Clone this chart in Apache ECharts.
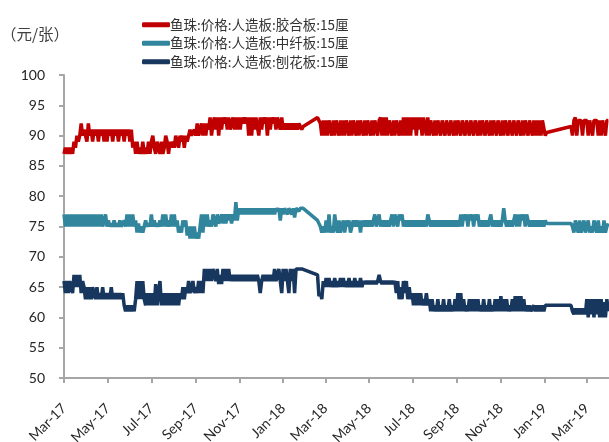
<!DOCTYPE html>
<html>
<head>
<meta charset="utf-8">
<script src="https://cdn.jsdelivr.net/npm/echarts@6/dist/echarts.min.js"></script>
<style>
  html, body { margin: 0; padding: 0; background: #fff; }
  #chart { width: 609px; height: 442px; }
</style>
</head>
<body>
<div id="chart"></div>
<script>
// Sampled prices, one value every 2 days starting 2017-03-01 (null = no quote).
// Each row below covers 30 days.
const sampleStart = [2017, 2, 1];
const sampleStepDays = 2;

const seriesNames = [
  '鱼珠:价格:人造板:胶合板:15厘',
  '鱼珠:价格:人造板:中纤板:15厘',
  '鱼珠:价格:人造板:刨花板:15厘'
];
const seriesColors = ['#C00000', '#31859C', '#17375E'];

const plywood = [
  87, 88, 87, 88, 87, 88, 87, 89, 88, 90, 89, 90, 92, 90, 91,
  91, 89, 92, 90, 91, 89, 91, 90, 91, 89, 91, 90, 91, 89, 91,
  89, 91, 90, 91, 89, 91, 90, 91, 89, 91, 90, 91, 89, 91, 90,
  91, 89, 91, 88, 89, 87, 89, 87, 88, 87, 89, 87, 88, 87, 89,
  87, 89, 90, 88, 87, 89, 88, 87, 89, 87, 88, 90, 89, 87, 89,
  88, 89, 88, 90, 89, 88, 90, 89, 90, 88, 90, 89, 90, 91, 90,
  90, 91, 90, 92, 90, 91, 92, 90, 92, 90, 92, 91, 93, 90, 92,
  93, 91, 93, 90, 93, 91, 93, 92, 93, 91, 93, 91, 92, 93, 91,
  93, 91, 93, 91, 93, 92, 93, 92, 93, 90, 93, 90, 93, 91, 93,
  93, 90, 93, 91, 93, 92, 93, 90, 93, 91, 93, 92, 93, 91, 93,
  93, 91, 93, 91, 92, 91, 92, 91, 92, 91, 92, 91, 92, 91, 92,
  92, 91, 91.5, null, null, null, null, null, null, null, null, null, 93, 92.5, 92,
  90, 92.5, 90, 92.5, 90, 92.5, 92.5, 90, 92.5, 90, 92.5, 92.5, 90, 92.5, 90,
  92.5, 90, 92.5, 92.5, 90, 92.5, 90, 92.5, 92.5, 90, 92.5, 90, 92.5, 92.5, 90,
  92.5, 90, 92.5, 92.5, 90, 92.5, 90, 92.5, 92.5, 90, 92.5, 93, 90, 93, 90,
  93, 90, 92.5, 92.5, 90, 92.5, 90, 92.5, 92.5, 90, 92.5, 90, 93, 90, 93,
  90, 93, 90, 93, 91, 93, 90, 93, 91, 93, 90, 93, 93, 90, 93,
  90, 92.5, 92.5, 90, 92.5, 90, 92.5, 92.5, 90, 92.5, 92.5, 90, 92.5, 92.5, 90,
  92.5, 92.5, 90, 92.5, 90, 92.5, 92.5, 90, 92.5, 92.5, 90, 92.5, 92.5, 90, 92.5,
  92.5, 90, 92.5, 92.5, 90, 92.5, 90, 92.5, 92.5, 90, 92.5, 92.5, 90, 92.5, 90,
  92.5, 92.5, 90, 92.5, 92.5, 90, 92.5, 90, 92.5, 92.5, 90, 92.5, 92.5, 90, 92.5,
  92.5, 90, 92.5, 92.5, 90, 92.5, 90, 92.5, 92.5, 90, 92.5, 92.5, 90, 92.5, 90,
  92.5, 90, 92.5, 90, 92.5, 92.5, 90, 90.5, null, null, null, null, null, null, null,
  null, null, null, null, null, null, null, null, null, 91.5, 90, 92.5, 93, 90, 92.5,
  92.5, 92.5, 90, 92.5, 92.5, 92.5, 90, 92.5, 92.5, 90, 92.5, 92.5, 92.5, 90, 92.5,
  90, 92.5, 92.5, 90, 92.5, 92.5
];

const mdf = [
  77, 75, 77, 75, 77, 75, 77, 75, 77, 75, 77, 75, 77, 75, 77,
  75, 77, 75, 77, 75, 77, 75, 77, 75, 77, 75, 77, 75, 76, 77,
  75, 76, 75, 75.5, 75, 76, 75, 75.5, 75, 76, 75, 75.5, 76, 75, 77,
  75, 77, 75, 77, 75, 76, 74, 75.5, 74, 75, 74, 75, 76, 75, 75.5,
  75, 77, 75, 76, 75, 75.5, 75, 76, 75, 77, 75, 77, 75, 76, 75,
  77, 75, 77, 75, 76, 74, 75, 74, 76, 75, 76, 73.5, 75, 73, 75,
  73, 75, 73, 74, 73, 75, 77, 74, 77, 75, 77, 75, 76, 75, 77,
  77, 75, 77, 75.5, 76, 77, 75.5, 77, 75.5, 77, 76, 77, 75.5, 77, 76,
  79, 76, 78, 77, 78, 77, 78, 77, 78, 77, 78, 77, 78, 77, 78,
  77, 78, 77, 78, 77, 78, 77, 78, 77, 78, 77, 78, 77, 78, 77.5,
  78, 76, 78, 77, 78, 78, 77, 78, 78, 77, 78, 76.5, 78, 78, 77.5,
  78, 78, 78, null, null, null, null, null, null, null, null, null, 76, 75.5, 75,
  74, 75, 74, 76, 74, 77, 74, 75, 74, 77, 75, 74, 76, 74, 75,
  76, 74, 76, 75, 76, 74, 75, 76, 75, 76, 75, 76, 74, 76, 75,
  76, 75, 76, 75, 76, 75, 76, 77, 75, 76, 77, 75, 76, 75, 76,
  75, 76, 75, 76, 77, 75, 77, 76, 75, 77, 76, 77, 75, 76, 75,
  76, 75, 76, 75, 76, 75, 76, 75, 76, 75, 76, 75, 76, 75, 77,
  76, 75, 76, 75, 76, 75, 76, 75, 76, 75, 76, 75, 76, 75, 76,
  75, 76, 75, 76, 75, 76, 75, 77, 75, 77, 76, 77, 75, 77, 76,
  77, 75, 77, 76, 77, 75, 76, 75, 76, 75, 76, 75, 76, 77, 75,
  76, 75, 76, 75, 76, 75, 76, 78, 76, 75, 76, 75, 76, 75, 76,
  77, 75, 77, 75, 77, 76, 77, 75, 77, 76, 75, 76, 75, 76, 75,
  76, 75, 76, 75, 76, 75, 76, 75.5, null, null, null, null, null, null, null,
  null, null, null, null, null, null, null, null, null, 75.5, 75, 74, 76, 75, 74,
  76, 74, 75, 76, 74, 75, 76, 74, 75, 74, 76, 75, 74, 76, 74,
  75, 74, 76, 74, 75, 75.5
];

const particleboard = [
  66, 64, 66, 64, 66, 65, 64, 67, 65, 67, 65, 67, 64, 66, 65,
  63, 65, 63, 65, 63, 65, 64, 63, 65, 63, 64, 63, 65, 63, 64,
  63, 64, 63, 65, 63, 64, 63, 64, 63, 64, 63, 64, 62, 61, 62,
  61, 62, 61, 62, 61, 63, 66, 63, 66, 63, 66, 63, 62, 64, 62,
  64, 62, 64, 62, 65.5, 62, 64, 66, 62, 64, 62, 64, 62, 64, 62,
  64, 62, 64, 62, 64, 62, 64, 63, 65, 63, 65, 64, 66, 64, 65,
  66, 64, 65, 64, 66, 64, 66, 64, 68, 66, 68, 66, 68, 66, 68,
  68, 66, 68, 65.5, 67, 65.5, 68, 66, 68, 66, 68, 66, 67, 66, 67,
  66, 67, 66, 67, 66, 67, 66, 67, 66, 67, 66, 67, 66, 67, 66,
  67, 66, 64, 66, 67, 66, 67, 66, 67, 66, 67, 66, 68, 66, 67,
  68, 66, 64, 68, 66, 68, 66, 64, 68, 66, 68, 64, 68, 68, 68,
  68, 68, 68, null, null, null, null, null, null, null, null, null, 67, 63.5, 64,
  63, 66, 65, 66.5, 65, 66.5, 65, 66, 65, 66.5, 65, 66, 65, 66.5, 65,
  66.5, 65, 66, 65, 66.5, 65, 66, 65, 66.5, 65, 66, 65, 66.5, 65, 66,
  65.5, 66, 65.5, 66, 65.5, 66, 65.5, 66, 65.5, 66, 67, 66, 65.5, 66, 65.5,
  66, 65.5, 66, 65.5, 66, 65.5, 66, 64, 66, 63, 65, 63, 66, 64, 66,
  63, 65, 63, 64, 62, 64, 62, 64, 62, 64, 62, 63, 62, 64, 62,
  63, 61, 63, 61, 62, 61, 63, 61, 62, 61, 63, 61, 62, 61, 63,
  61, 62, 61, 63, 61, 64, 61, 64, 61, 63, 61, 62, 61, 63, 61,
  63, 61, 63, 61, 63, 61, 62, 61, 63, 61, 62, 61, 63, 61, 62,
  61, 63, 61, 63, 61, 63.5, 61, 63, 61, 63, 61, 62, 61, 63, 61,
  63.5, 61, 63.5, 61, 63.5, 61, 63, 61, 62, 61, 62, 61, 61, 62, 61,
  62, 61, 62, 61, 62, 61, 62, 62, null, null, null, null, null, null, null,
  null, null, null, null, null, null, null, null, null, 62, 61, 60.5, 61.5, 60.5, 61.5,
  60.5, 61.5, 60.5, 61.5, 60.5, 63, 60, 63, 60.5, 63, 60, 63, 60.5, 63, 60,
  63, 60, 62.5, 60, 63, 61
];

// Axis tick positions (first day of every other month) and their labels
const tickMonths = [
  [2017, 3], [2017, 5], [2017, 7], [2017, 9], [2017, 11],
  [2018, 1], [2018, 3], [2018, 5], [2018, 7], [2018, 9], [2018, 11],
  [2019, 1], [2019, 3]
];
const tickLabels = [
  'Mar-17', 'May-17', 'Jul-17', 'Sep-17', 'Nov-17',
  'Jan-18', 'Mar-18', 'May-18', 'Jul-18', 'Sep-18', 'Nov-18',
  'Jan-19', 'Mar-19'
];
const yTicks = { min: 50, max: 100, step: 5 };
const unitLabel = '（元/张）';

const tickTimes = tickMonths.map(([y, m]) => new Date(y, m - 1, 1).getTime());
const axisStart = new Date(2017, 2, 1).getTime();
const axisEnd = new Date(2019, 3, 1).getTime();

function toPairs(values) {
  const out = [];
  values.forEach((v, i) => {
    if (v === null) return;
    const t = new Date(sampleStart[0], sampleStart[1], sampleStart[2] + i * sampleStepDays).getTime();
    out.push([t, v]);
  });
  return out;
}

const allValues = [plywood, mdf, particleboard];
const chart = echarts.init(document.getElementById('chart'), null, { renderer: 'canvas' });

const axisColor = '#A6A6A6';
const textColor = '#262626';

chart.setOption({
  animation: false,
  backgroundColor: '#fff',
  graphic: [{
    type: 'text',
    left: 1,
    top: 26,
    style: { text: unitLabel, fontSize: 15.5, fill: '#404040', fontFamily: 'Noto Sans CJK SC' }
  }],
  legend: {
    orient: 'vertical',
    left: 137,
    top: 13,
    itemWidth: 28,
    itemHeight: 5,
    itemGap: 5,
    icon: 'roundRect',
    data: seriesNames,
    textStyle: { fontSize: 13.5, color: '#333', fontFamily: 'Noto Sans CJK SC', padding: [0, 0, 0, -5] }
  },
  grid: { left: 64, right: 0, top: 75, bottom: 64, containLabel: false, outerBoundsMode: 'none' },
  xAxis: {
    type: 'value',
    min: axisStart,
    max: axisEnd,
    axisLine: { show: true, lineStyle: { color: axisColor, width: 2 } },
    axisTick: { show: true, length: 5, lineStyle: { color: axisColor, width: 2 }, customValues: tickTimes },
    axisLabel: {
      rotate: 45,
      margin: 28,
      fontSize: 14,
      color: textColor,
      fontFamily: 'Lato',
      customValues: tickTimes,
      formatter: function (val) {
        const idx = tickTimes.indexOf(val);
        return idx >= 0 ? tickLabels[idx] : '';
      }
    },
    splitLine: { show: false },
    minorTick: { show: false }
  },
  yAxis: {
    type: 'value',
    min: yTicks.min,
    max: yTicks.max,
    interval: yTicks.step,
    axisLine: { show: true, lineStyle: { color: axisColor, width: 2 } },
    axisTick: { show: true, length: 5, lineStyle: { color: axisColor, width: 2 } },
    axisLabel: { fontSize: 14, color: textColor, fontFamily: 'Lato', margin: 19 },
    splitLine: { show: false }
  },
  series: seriesNames.map((name, k) => ({
    name: name,
    type: 'line',
    data: toPairs(allValues[k]),
    showSymbol: false,
    symbol: 'none',
    connectNulls: true,
    lineStyle: { color: seriesColors[k], width: 3.5 },
    itemStyle: { color: seriesColors[k] }
  }))
});
</script>
</body>
</html>
